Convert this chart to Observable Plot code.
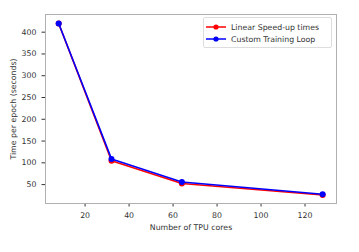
<!DOCTYPE html>
<html><head><meta charset="utf-8">
<script src="https://cdn.jsdelivr.net/npm/d3@7"></script>
<script src="https://cdn.jsdelivr.net/npm/@observablehq/plot@0.6"></script>
<style>
body{margin:0;background:#fff;font-family:"DejaVu Sans",sans-serif;}
#wrap{position:relative;width:359px;height:252px;}
#legend{position:absolute;left:203px;top:17px;width:129px;height:31px;border:1px solid #ddd;border-radius:2px;background:rgba(255,255,255,0.9);font-size:7.8px;color:#333;box-sizing:border-box;padding:3px 0 0 1px;}
.row{display:flex;align-items:center;height:12px;}
.row svg{margin-right:4px;}
</style></head><body>
<div id="wrap"></div>
<script>
const cores = [8, 32, 64, 128];
const linearTimes = [420, 105, 52.5, 26.25];
const customTimes = [420, 109, 56, 28];
const seriesNames = ["Linear Speed-up times", "Custom Training Loop"];
const seriesColors = ["#ff0000", "#0000ff"];
const xTicks = [20, 40, 60, 80, 100, 120];
const yTicks = [50, 100, 150, 200, 250, 300, 350, 400];

const data = [];
cores.forEach((c, i) => data.push({x: c, y: linearTimes[i], s: seriesNames[0]}));
cores.forEach((c, i) => data.push({x: c, y: customTimes[i], s: seriesNames[1]}));
const lin = data.filter(d => d.s === seriesNames[0]);
const cus = data.filter(d => d.s === seriesNames[1]);

const chart = Plot.plot({
  width: 359, height: 252,
  marginLeft: 45, marginRight: 23, marginTop: 14, marginBottom: 49,
  style: {fontFamily: "DejaVu Sans", fontSize: "7.8px", color: "#333", background: "#fff"},
  x: {domain: [2, 134.3], ticks: xTicks, tickSize: 3.5, label: "Number of TPU cores", labelAnchor: "center", labelArrow: "none", labelOffset: 26},
  y: {domain: [6.6, 440.6], ticks: yTicks, tickSize: 3.5, label: "Time per epoch (seconds)", labelAnchor: "center", labelArrow: "none", labelOffset: 35},
  marks: [
    Plot.frame({stroke: "#b0b0b0", strokeWidth: 1}),
    Plot.line(lin, {x: "x", y: "y", stroke: seriesColors[0], strokeWidth: 1.6}),
    Plot.dot(lin, {x: "x", y: "y", fill: seriesColors[0], r: 3}),
    Plot.line(cus, {x: "x", y: "y", stroke: seriesColors[1], strokeWidth: 1.6}),
    Plot.dot(cus, {x: "x", y: "y", fill: seriesColors[1], r: 3})
  ]
});
const wrap = document.getElementById("wrap");
wrap.appendChild(chart);

const legend = document.createElement("div");
legend.id = "legend";
seriesNames.forEach((n, i) => {
  const row = document.createElement("div");
  row.className = "row";
  row.innerHTML = `<svg width="22" height="8"><line x1="1" x2="21" y1="4" y2="4" stroke="${seriesColors[i]}" stroke-width="1.5"/><circle cx="11" cy="4" r="2.6" fill="${seriesColors[i]}"/></svg><span>${n}</span>`;
  legend.appendChild(row);
});
wrap.appendChild(legend);
</script>
</body></html>
